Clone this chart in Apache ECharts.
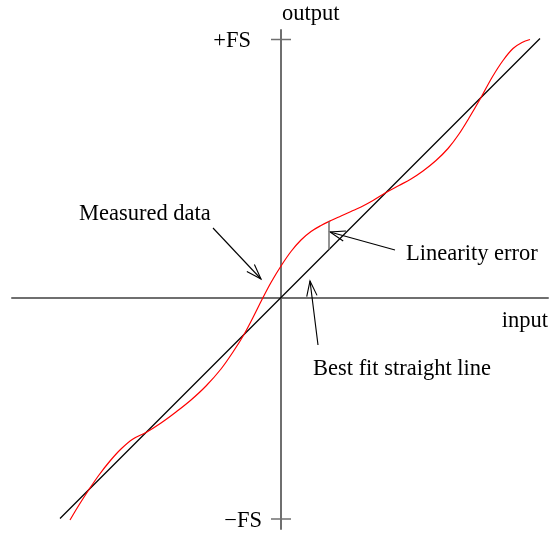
<!DOCTYPE html>
<html>
<head>
<meta charset="utf-8">
<script src="https://cdn.jsdelivr.net/npm/echarts@6/dist/echarts.min.js"></script>
<style>
  html, body { margin: 0; padding: 0; background: #fff; }
  #chart { width: 551px; height: 535px; }
</style>
</head>
<body>
<div id="chart"></div>
<script>
// Axis extents (arbitrary transducer units, zero at the crossing)
const inputRange = [-269, 267];
const outputRange = [-231.5, 267.5];

// Full-scale marks on the output axis
const fsTickValues = [258, -221.5];
const fsTickLabels = ['+FS', '\u2212FS'];

// Measured transfer curve
const measuredInput = [-211, -202, -192, -182, -171, -160, -148, -135, -120, -105, -90, -75, -60, -48,
  -37, -28, -19, -10, 0, 10, 20, 30, 40, 50, 60, 70, 80, 92, 105, 118, 130, 142, 155, 167, 178, 188,
  200, 211, 222, 232, 241, 249];
const measuredOutput = [-222.5, -207.5, -192, -177.5, -163.5, -151.5, -141.5, -135, -125.5, -114.5, -102.5, -88.5, -71.5, -54.5,
  -37, -20, -2, 15, 31.5, 46, 57.5, 66, 72, 77, 81.5, 86, 90.5, 97, 105, 112, 118.5, 126.5, 137, 149, 163.5, 179.5,
  200, 220, 237, 249, 255, 258];

// Best fit straight line (end points)
const fitInput = [-221, 259];
const fitOutput = [-221, 259];

// Linearity error marker: input position, fit value, measured value
const errorInput = 48;
const errorOutput = [48, 76];

// Annotation texts
const labelInput = [1, 267, -30, -19, -202, 125, 32];
const labelOutput = [283.5, -23.5, 256.5, -224, 83.5, 43.5, -71.5];
const labelText = ['output', 'input', fsTickLabels[0], fsTickLabels[1], 'Measured data', 'Linearity error', 'Best fit straight line'];
const labelAlign = ['left', 'right', 'right', 'right', 'left', 'left', 'left'];

// Pointer arrows: tail -> head
const arrowTailInput = [-68, 114, 37];
const arrowTailOutput = [69.5, 47.5, -47.5];
const arrowHeadInput = [-20, 49, 29];
const arrowHeadOutput = [18.5, 65.5, 16.5];

const axisColor = '#6f6f6f';
const fontFamily = '"Liberation Serif", "Times New Roman", serif';

const measuredData = measuredInput.map((x, i) => [x, measuredOutput[i]]);
const fitData = fitInput.map((x, i) => [x, fitOutput[i]]);
const errorData = errorOutput.map(y => [errorInput, y]);
const labelData = labelText.map((t, i) => [labelInput[i], labelOutput[i], i]);
const arrowData = arrowTailInput.map((x, i) => [x, arrowTailOutput[i], arrowHeadInput[i], arrowHeadOutput[i]]);
const tickData = fsTickValues.map((v, i) => [0, v, i]);

const chart = echarts.init(document.getElementById('chart'), null, { renderer: 'canvas' });

chart.setOption({
  animation: false,
  backgroundColor: '#fff',
  grid: { left: 12, right: 3, top: 30, bottom: 6 },
  xAxis: {
    type: 'value', min: inputRange[0], max: inputRange[1],
    axisLine: { onZero: true, lineStyle: { color: axisColor, width: 2 } },
    axisTick: { show: false }, axisLabel: { show: false }, splitLine: { show: false }
  },
  yAxis: {
    type: 'value', min: outputRange[0], max: outputRange[1],
    axisLine: { onZero: true, lineStyle: { color: axisColor, width: 2 } },
    axisTick: { show: false }, axisLabel: { show: false }, splitLine: { show: false }
  },
  series: [
    {
      // full-scale crossbars on the output axis
      type: 'custom', silent: true, clip: false,
      data: tickData,
      renderItem: (params, api) => {
        const p = api.coord([api.value(0), api.value(1)]);
        return {
          type: 'line',
          shape: { x1: p[0] - 10, y1: p[1], x2: p[0] + 10, y2: p[1] },
          style: { stroke: axisColor, lineWidth: 1.5 }
        };
      }
    },
    {
      type: 'line', data: fitData, showSymbol: false, silent: true,
      lineStyle: { color: '#000', width: 1.3 }
    },
    {
      type: 'line', data: measuredData, showSymbol: false, silent: true, smooth: 0.35,
      lineStyle: { color: '#ff0000', width: 1.2 }
    },
    {
      type: 'line', data: errorData, showSymbol: false, silent: true,
      lineStyle: { color: axisColor, width: 1.5 }
    },
    {
      type: 'custom', silent: true, clip: false,
      data: arrowData,
      renderItem: (params, api) => {
        const p1 = api.coord([api.value(0), api.value(1)]);
        const p2 = api.coord([api.value(2), api.value(3)]);
        const ang = Math.atan2(p2[1] - p1[1], p2[0] - p1[0]);
        const len = 16, half = 0.33;
        const b1 = [p2[0] - len * Math.cos(ang - half), p2[1] - len * Math.sin(ang - half)];
        const b2 = [p2[0] - len * Math.cos(ang + half), p2[1] - len * Math.sin(ang + half)];
        return {
          type: 'group',
          children: [
            { type: 'line', shape: { x1: p1[0], y1: p1[1], x2: p2[0], y2: p2[1] },
              style: { stroke: '#000', lineWidth: 1.1 } },
            { type: 'polyline', shape: { points: [b1, p2, b2] },
              style: { stroke: '#000', fill: null, lineWidth: 1.1 } }
          ]
        };
      }
    },
    {
      type: 'custom', silent: true, clip: false,
      data: labelData,
      renderItem: (params, api) => {
        const i = params.dataIndex;
        const p = api.coord([api.value(0), api.value(1)]);
        return {
          type: 'text',
          x: p[0], y: p[1],
          style: {
            text: labelText[i],
            fill: '#000',
            font: '22.5px ' + fontFamily,
            align: labelAlign[i],
            verticalAlign: 'middle'
          }
        };
      }
    }
  ]
});
</script>
</body>
</html>
